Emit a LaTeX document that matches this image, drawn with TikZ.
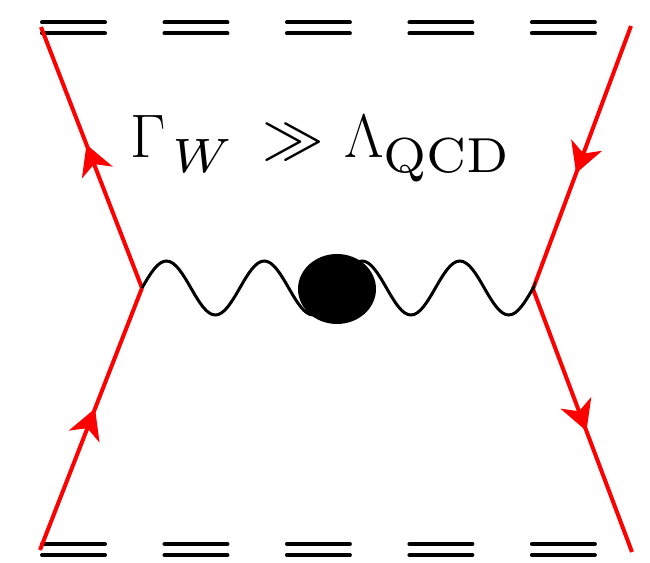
\documentclass[tikz,border=0pt]{standalone}
\usepackage{fix-cm}
\usepackage{tikz}
\usetikzlibrary{arrows.meta,shapes.geometric,decorations.markings}
\font\wsubfont=cmmi7 at 27.5pt
\font\qcdsubfont=cmr7 at 28pt
\definecolor{fermion}{HTML}{FF0000}
\tikzset{
  fermion_line/.style={draw=fermion,line width=0.08cm},
  fermion_arrow/.style={fermion_line,postaction={decorate},decoration={markings,
    mark=at position #1 with {\arrow{Stealth[length=17pt,width=18.5pt,inset=5pt]}}}},
  photon_wave/.style={draw=black,line width=0.06cm},
  meson_line/.style={draw=black,line width=0.08cm,line cap=round,
    dash pattern=on 1.26cm off 1.19cm},
  blob/.style={ellipse,fill=black,minimum width=1.56cm,minimum height=1.4cm,inner sep=0pt},
}

\begin{document}
\begin{tikzpicture}[x=0.02cm,y=-0.02cm]
  \useasboundingbox (0,0) rectangle (650,563);

  \coordinate (tl) at (41,27);
  \coordinate (bl) at (40,550);
  \coordinate (tr) at (631,26);
  \coordinate (br) at (632,552);
  \coordinate (vl) at (142,288);
  \coordinate (vr) at (533,289);

  \coordinate (top_a) at (42,22.5);   \coordinate (top_b) at (660,22.5);
  \coordinate (top_c) at (42,33.3);   \coordinate (top_d) at (660,33.3);
  \coordinate (bot_a) at (42,544);    \coordinate (bot_b) at (660,544);
  \coordinate (bot_c) at (42,555);    \coordinate (bot_d) at (660,555);

  \begin{scope}
    \clip (0,0) rectangle (600,563);
    \draw[meson_line] (top_a) -- (top_b);
    \draw[meson_line] (top_c) -- (top_d);
    \draw[meson_line] (bot_a) -- (bot_b);
    \draw[meson_line] (bot_c) -- (bot_d);
  \end{scope}

  \draw[fermion_arrow=0.55] (vl) -- (tl);
  \draw[fermion_arrow=0.54] (bl) -- (vl);
  \draw[fermion_arrow=0.56] (tr) -- (vr);
  \draw[fermion_arrow=0.54] (vr) -- (br);

  \draw[photon_wave] (vl) \foreach \k in {1,...,4}{
      sin ++(24.45,-27) cos ++(24.45,27) sin ++(24.45,27) cos ++(24.45,-27)} -- (vr);
  \node[blob] (bb) at (337,289) {};

  \node[anchor=base west,inner sep=0pt,font=\fontsize{35}{42}\selectfont] (lbl) at (130,158)
    {$\Gamma\mskip2mu\lower8.5pt\hbox{\wsubfont W}\mskip6mu\gg\mskip1mu\Lambda\lower8.5pt\hbox{\qcdsubfont QCD}$};
\end{tikzpicture}
\end{document}
